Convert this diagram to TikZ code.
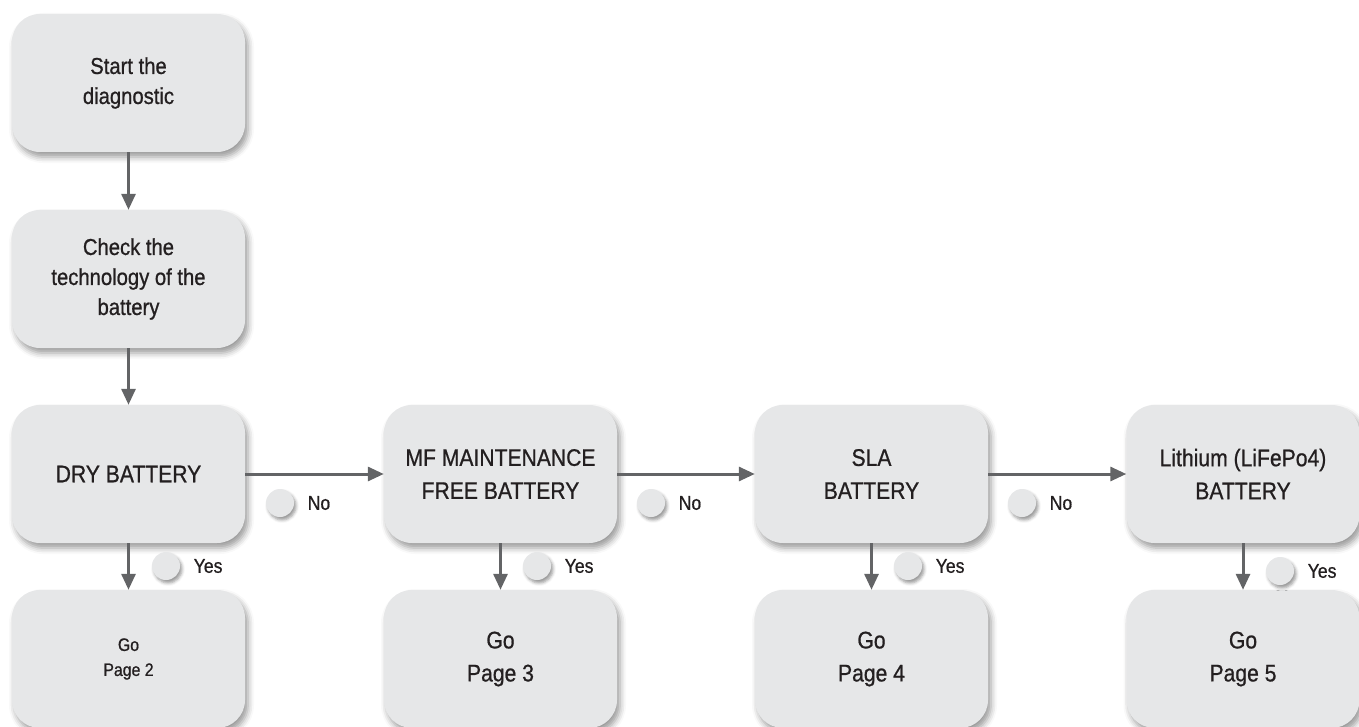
\documentclass[tikz,border=0pt]{standalone}
\usepackage{fontspec}
\setmainfont[FakeStretch=0.88,FakeBold=0.8]{Liberation Sans}
\usetikzlibrary{arrows.meta,shadows.blur}
\definecolor{boxgray}{HTML}{E6E7E8}
\definecolor{linegray}{HTML}{636466}
\definecolor{txtdark}{HTML}{231F20}
\tikzset{
  stepbox/.style={rounded corners=28pt, fill=boxgray, minimum width=233pt, minimum height=138pt, inner sep=0pt, align=center, text=txtdark,
    blur shadow={shadow xshift=3pt, shadow yshift=-5pt, shadow blur radius=6pt, shadow opacity=40}},
  dot/.style={circle, fill=boxgray, minimum size=28pt, inner sep=0pt,
    blur shadow={shadow xshift=2pt, shadow yshift=-3pt, shadow blur radius=3pt, shadow opacity=40}},
  flow/.style={draw=linegray, line width=3pt, -{Triangle[length=16pt,width=14pt]}},
  ans/.style={anchor=west, text=txtdark, font=\fontsize{20}{24}\selectfont},
  big/.style={font=\fontsize{24}{33}\selectfont},
  mid/.style={font=\fontsize{23}{30}\selectfont}
}
\begin{document}
\begin{tikzpicture}[x=1pt,y=-1pt]
\useasboundingbox (0,0) rectangle (1359,727);
\node[stepbox, mid] (start) at (128.5,83) {Start the\\diagnostic};
\node[stepbox, mid] (check) at (128.5,279) {Check the\\technology of the\\battery};
\node[stepbox, big] (dry) at (128.5,474) {DRY BATTERY};
\node[stepbox, big] (mf) at (500.5,474) {MF MAINTENANCE\\FREE BATTERY};
\node[stepbox, big] (sla) at (871.5,474) {SLA\\BATTERY};
\node[stepbox, big] (lith) at (1243,474) {Lithium (LiFePo4)\\BATTERY};
\node[stepbox, font=\fontsize{18}{25}\selectfont] (go2) at (128.5,659) {Go\\Page 2};
\node[stepbox, big] (go3) at (500.5,659) {Go\\Page 3};
\node[stepbox, big] (go4) at (871.5,659) {Go\\Page 4};
\node[stepbox, big] (go5) at (1243,659) {Go\\Page 5};

\draw[flow] (start) -- (check);
\draw[flow] (check) -- (dry);
\draw[flow] (dry) -- (mf);
\draw[flow] (mf) -- (sla);
\draw[flow] (sla) -- (lith);
\draw[flow] (dry) -- (go2);
\draw[flow] (mf) -- (go3);
\draw[flow] (sla) -- (go4);
\draw[flow] (lith) -- (go5);

\node[dot] (nodot1) at (280,503) {};
\node[dot] (nodot2) at (651,503) {};
\node[dot] (nodot3) at (1022,503) {};
\node[ans] (no1) at ([xshift=10pt]nodot1.east) {No};
\node[ans] (no2) at ([xshift=10pt]nodot2.east) {No};
\node[ans] (no3) at ([xshift=10pt]nodot3.east) {No};
\node[dot] (yesdot1) at (166,566) {};
\node[dot] (yesdot2) at (537,566) {};
\node[dot] (yesdot3) at (908,566) {};
\node[dot] (yesdot4) at (1280,571) {};
\node[ans] (yes1) at ([xshift=10pt]yesdot1.east) {Yes};
\node[ans] (yes2) at ([xshift=10pt]yesdot2.east) {Yes};
\node[ans] (yes3) at ([xshift=10pt]yesdot3.east) {Yes};
\node[ans] (yes4) at ([xshift=10pt]yesdot4.east) {Yes};
\end{tikzpicture}
\end{document}
